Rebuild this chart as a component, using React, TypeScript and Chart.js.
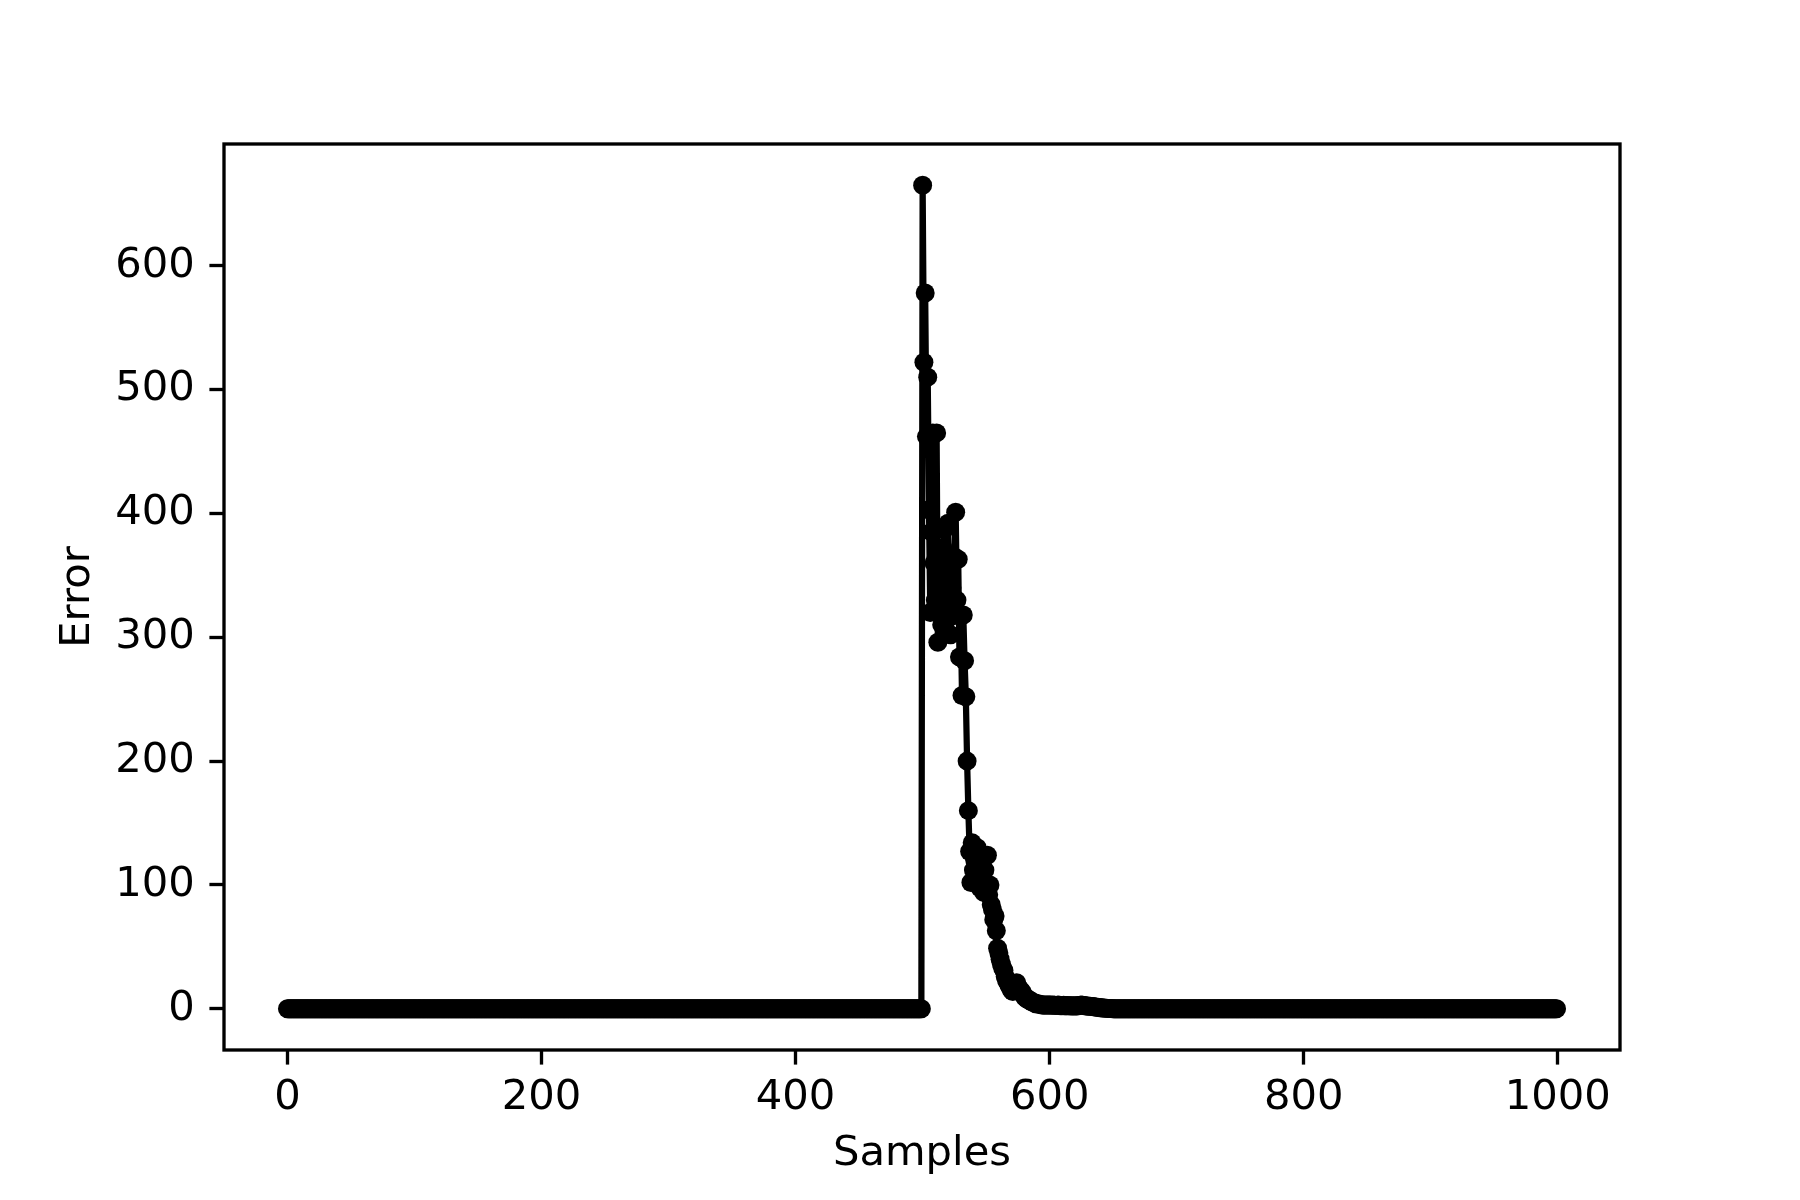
import React, { useEffect, useRef } from "react";
import { Chart, registerables } from "chart.js";

Chart.register(...registerables);

// Samples 0..499 are all zero
const leadingZeroCount = 500;
// Values for samples 500..659
const spikeValues = [
  665, 522, 578, 462, 510, 403, 320, 385, 465, 360,
  330, 465, 296, 340, 351, 310, 372, 387, 330, 318,
  392, 316, 302, 340, 318, 365, 401, 330, 363, 284,
  317, 253, 318, 281, 252, 200, 160, 127, 102, 134,
  112, 120, 105, 130, 110, 98, 123, 108, 94, 112,
  100, 124, 92, 100, 84, 80, 72, 75, 63, 49,
  45, 40, 36, 33, 31, 26, 23, 21, 19, 17,
  15, 14, 16, 19, 21, 18, 16, 15, 14, 12,
  10, 9, 8, 8, 7, 6, 6, 5, 5, 4,
  4, 4, 3.5, 3.5, 3, 3, 3, 3, 3, 3,
  3, 3, 2.8, 3, 2.8, 2.6, 2.8, 3, 2.6, 2.5,
  2.6, 2.8, 2.5, 2.4, 2.6, 2.5, 2.4, 2.5, 2.3, 2.4,
  2.5, 2.3, 2.4, 2.6, 2.8, 3, 2.8, 2.6, 2.4, 2.2,
  2.3, 2.1, 2.0, 1.9, 1.8, 1.6, 1.5, 1.3, 1.2, 1.0,
  0.9, 0.8, 0.7, 0.6, 0.5, 0.4, 0.3, 0.3, 0.2, 0.2,
  0.1, 0.1, 0.1, 0.1, 0.1, 0.1, 0.1, 0.1, 0.1, 0.1,
];
// Remaining samples up to 999 are zero
const totalSamples = 1000;

const xTickValues = [0, 200, 400, 600, 800, 1000];
const yTickValues = [0, 100, 200, 300, 400, 500, 600];
const xAxisTitle = "Samples";
const yAxisTitle = "Error";

const FONT = "DejaVu Sans";
const FONT_SIZE = 41.7;
const SPINE_W = 3.33;
const TICK_LEN = 14.6;

export default function App() {
  const ref = useRef<HTMLCanvasElement>(null);

  useEffect(() => {
    if (!ref.current) return;
    const values: number[] = [];
    for (let i = 0; i < leadingZeroCount; i++) values.push(0);
    values.push(...spikeValues);
    while (values.length < totalSamples) values.push(0);
    const points = values.map((v, i) => ({ x: i, y: v }));

    const frame = {
      id: "frame",
      afterDatasetsDraw(chart: any) {
        const { ctx, chartArea } = chart;
        const { left, top, right, bottom } = chartArea;
        ctx.save();
        ctx.strokeStyle = "#000";
        ctx.lineWidth = SPINE_W;
        ctx.strokeRect(left, top, right - left, bottom - top);
        ctx.restore();
      },
    };

    const tickFont = { family: FONT, size: FONT_SIZE };

    const chart = new Chart(ref.current, {
      type: "scatter",
      data: {
        datasets: [
          {
            data: points,
            showLine: true,
            borderColor: "#000",
            backgroundColor: "#000",
            borderWidth: 6.25,
            pointRadius: 9.5,
            pointBorderWidth: 0,
            pointBackgroundColor: "#000",
            pointHoverRadius: 9.5,
            tension: 0,
          },
        ],
      },
      options: {
        responsive: false,
        animation: false,
        devicePixelRatio: 1,
        layout: { padding: { top: 144, right: 180, left: 0, bottom: 0 } },
        plugins: { legend: { display: false }, tooltip: { enabled: false } },
        scales: {
          x: {
            type: "linear",
            min: -49.95,
            max: 1048.95,
            afterFit(s: any) {
              s.height = 150;
            },
            afterBuildTicks(s: any) {
              s.ticks = xTickValues.map((v) => ({ value: v }));
            },
            grid: {
              drawOnChartArea: false,
              drawTicks: true,
              tickLength: TICK_LEN,
              tickWidth: SPINE_W,
              tickColor: "#000",
            },
            border: { display: false },
            ticks: {
              color: "#000",
              font: tickFont,
              padding: 8.5,
              maxRotation: 0,
              autoSkip: false,
              callback: (v: any) => String(v),
            },
            title: {
              display: true,
              text: xAxisTitle,
              color: "#000",
              font: tickFont,
              padding: { top: 0, bottom: 21 },
            },
          },
          y: {
            type: "linear",
            min: -33.25,
            max: 698.25,
            afterFit(s: any) {
              s.width = 224;
            },
            afterBuildTicks(s: any) {
              s.ticks = yTickValues.map((v) => ({ value: v }));
            },
            grid: {
              drawOnChartArea: false,
              drawTicks: true,
              tickLength: TICK_LEN,
              tickWidth: SPINE_W,
              tickColor: "#000",
            },
            border: { display: false },
            ticks: {
              color: "#000",
              font: tickFont,
              padding: TICK_LEN,
              autoSkip: false,
              callback: (v: any) => String(v),
            },
            title: {
              display: true,
              text: yAxisTitle,
              color: "#000",
              font: tickFont,
              padding: { top: 53, bottom: 0 },
            },
          },
        },
      },
      plugins: [frame],
    } as any);

    return () => chart.destroy();
  }, []);

  return (
    <div style={{ position: "absolute", left: 0, top: 0, width: 1800, height: 1200, background: "#fff" }}>
      <canvas ref={ref} width={1800} height={1200} style={{ display: "block" }} />
    </div>
  );
}
